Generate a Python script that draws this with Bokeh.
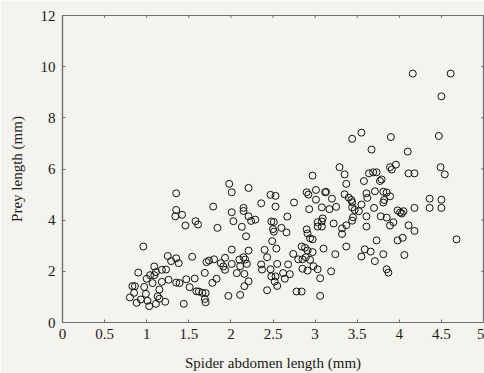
import math
from bokeh.plotting import figure
from bokeh.models import FixedTicker, Range1d
from bokeh.embed import file_html
from bokeh.resources import INLINE

abdomen = [
    1.35, 1.35, 1.34, 1.42, 1.46, 1.58, 1.61, 0.96, 1.25, 1.35, 1.29, 1.38, 1.54, 1.09, 1.18, 1.23,
    0.90, 1.11, 1.04, 1.09, 1.00, 1.07, 1.18, 1.26, 1.35, 1.39, 1.47, 1.57, 0.97, 1.51, 1.59, 1.62,
    0.83, 0.86, 0.85, 1.15, 0.99, 0.80, 0.93, 0.88, 1.01, 1.03, 1.13, 1.15, 1.11, 1.22, 1.44,
    2.97, 1.98, 2.01, 2.21, 2.47, 2.53, 2.90, 2.92, 3.01, 3.12, 3.01, 2.36, 2.53, 2.75, 3.08, 2.93,
    3.17, 1.79, 2.01, 2.15, 2.15, 2.21, 2.24, 2.29, 2.03, 1.84, 2.13, 2.48, 2.51, 2.50, 2.51, 2.60,
    2.66, 2.67, 2.18, 2.49, 2.90, 2.91, 2.94, 2.97, 3.03, 3.03, 3.08, 3.09, 3.08, 2.84, 2.88, 2.91,
    2.97, 3.10, 2.01, 2.21, 2.40, 2.54, 1.80, 1.71, 1.74, 1.93, 1.88, 1.91, 1.93, 2.01, 2.10, 2.15,
    2.17, 2.11, 2.19, 2.16, 2.07, 2.21, 2.16, 1.97, 2.11, 2.43, 2.36, 2.37, 2.47, 2.55, 2.68, 2.48,
    2.53, 2.52, 2.55, 2.62, 2.70, 2.64, 2.43, 2.78, 2.84, 3.06, 2.74, 2.80, 2.85, 2.89, 2.94, 2.98,
    3.03, 2.85, 2.91, 3.06, 3.19, 1.69, 1.83, 1.78, 1.70, 1.70, 1.69, 1.66,
    3.55, 3.44, 3.90, 4.47, 3.67, 4.10, 3.29, 3.35, 3.37, 3.58, 3.64, 3.69, 3.73, 3.77, 3.79, 3.89,
    3.91, 3.96, 4.11, 4.18, 4.49, 4.54, 3.13, 3.20, 3.25, 3.35, 3.40, 3.43, 3.44, 3.44, 3.47, 3.52,
    3.55, 3.61, 3.62, 3.71, 3.81, 3.85, 3.89, 3.82, 3.81, 3.70, 3.61, 3.61, 3.78, 3.85, 3.98, 4.01,
    4.05, 4.03, 4.18, 4.36, 4.36, 4.50, 4.50, 3.93, 3.89, 4.11, 4.18, 4.68, 3.22, 3.37, 3.32, 3.32,
    3.44, 3.45, 3.73, 3.98, 4.04, 3.24, 3.37, 3.59, 3.66, 3.55, 3.71, 3.81, 4.06, 3.85, 3.87,
    4.16, 4.61, 4.50,
]
prey = [
    5.05, 4.40, 4.15, 4.21, 3.79, 3.96, 3.83, 2.97, 2.60, 2.51, 2.40, 2.32, 2.57, 2.19, 2.06, 2.07,
    1.95, 1.97, 1.85, 1.85, 1.71, 1.54, 1.59, 1.67, 1.56, 1.54, 1.69, 1.72, 1.39, 1.38, 1.22, 1.21,
    1.42, 1.42, 1.16, 1.29, 1.12, 0.98, 0.90, 0.77, 0.85, 0.64, 1.02, 0.93, 0.73, 0.81, 0.73,
    5.74, 5.42, 5.09, 5.26, 4.99, 4.95, 5.09, 5.00, 5.18, 5.09, 4.80, 4.66, 4.53, 4.69, 4.50, 4.43,
    4.43, 4.53, 4.31, 4.48, 4.36, 4.15, 3.97, 4.02, 3.96, 3.70, 3.74, 3.95, 3.93, 3.65, 3.55, 3.70,
    3.52, 4.14, 3.37, 3.18, 3.64, 3.48, 3.29, 3.25, 3.92, 3.75, 3.75, 4.07, 3.95, 2.97, 2.92, 2.81,
    2.75, 2.89, 2.85, 2.81, 2.84, 2.89, 2.47, 2.36, 2.42, 2.53, 2.32, 2.19, 2.06, 2.29, 2.46, 2.55,
    2.46, 2.20, 2.29, 1.90, 1.93, 1.61, 1.42, 1.04, 1.08, 2.55, 2.27, 2.07, 2.08, 2.29, 2.27, 1.80,
    1.80, 1.60, 1.43, 1.93, 1.89, 1.71, 1.26, 1.21, 1.21, 1.04, 2.68, 2.47, 2.47, 2.55, 2.45, 2.20,
    2.08, 2.10, 2.03, 1.73, 2.00, 1.94, 1.71, 1.55, 1.15, 0.79, 0.92, 1.16,
    7.42, 7.18, 7.25, 7.29, 6.76, 6.68, 6.07, 5.79, 5.42, 5.53, 5.83, 5.87, 5.87, 5.53, 5.59, 6.07,
    5.98, 6.17, 5.83, 5.83, 6.07, 5.79, 5.11, 4.84, 4.52, 5.01, 4.88, 4.79, 4.70, 4.50, 4.40, 4.35,
    4.61, 5.05, 4.87, 5.13, 5.11, 5.08, 4.93, 4.79, 4.69, 4.48, 4.15, 3.75, 4.15, 4.10, 4.38, 4.30,
    4.35, 4.26, 4.48, 4.84, 4.48, 4.80, 4.48, 3.92, 3.79, 3.80, 3.58, 3.25, 3.87, 3.80, 3.68, 3.46,
    3.98, 4.11, 3.21, 3.21, 3.31, 2.67, 2.97, 2.86, 2.77, 2.58, 2.40, 2.67, 2.64, 2.08, 1.95,
    9.73, 9.73, 8.84,
]

x_ticks = [0, 0.5, 1, 1.5, 2, 2.5, 3, 3.5, 4, 4.5, 5]
x_tick_labels = ["0", "0.5", "1", "1.5", "2", "2.5", "3", "3.5", "4", "4.5", "5"]
y_ticks = [0, 2, 4, 6, 8, 10, 12]
y_tick_labels = ["0", "2", "4", "6", "8", "10", "12"]
x_min, x_max = 0, 5
y_min, y_max = 0, 12

BG = "#f4f3ee"
FRAME = "#6e6e6e"
TEXT = "#1a1a1a"
FONT = "Liberation Serif"

p = figure(width=484, height=373, output_backend="svg", toolbar_location=None,
           x_range=Range1d(x_min, x_max), y_range=Range1d(y_min, y_max),
           min_border_left=62, min_border_right=1, min_border_top=15, min_border_bottom=51,
           background_fill_color=BG, border_fill_color=BG)
p.grid.visible = False
p.outline_line_color = FRAME
p.outline_line_width = 1.2

p.scatter(abdomen, prey, marker="circle", size=7, fill_color=None,
          line_color="#111111", line_width=1)

# inward ticks on the top and right edges of the frame
p.scatter(x_ticks, [y_max] * len(x_ticks), marker="dash", size=5, angle=math.pi / 2,
          line_color=FRAME, line_width=1)
p.scatter([x_max] * len(y_ticks), y_ticks, marker="dash", size=5,
          line_color=FRAME, line_width=1)

for ax, ticks, labels, name in ((p.xaxis[0], x_ticks, x_tick_labels, "Spider abdomen length (mm)"),
                                (p.yaxis[0], y_ticks, y_tick_labels, "Prey length (mm)")):
    ax.ticker = FixedTicker(ticks=ticks)
    ax.major_label_overrides = {t: l for t, l in zip(ticks, labels)}
    ax.axis_label = name
    ax.axis_label_text_font = FONT
    ax.axis_label_text_font_size = "15px"
    ax.axis_label_text_font_style = "normal"
    ax.axis_label_text_color = TEXT
    ax.major_label_text_font = FONT
    ax.major_label_text_font_size = "15px"
    ax.major_label_text_color = TEXT
    ax.axis_line_color = FRAME
    ax.axis_line_width = 1.2
    ax.major_tick_line_color = FRAME
    ax.major_tick_in = 3
    ax.major_tick_out = 0
    ax.minor_tick_line_color = None

p.xaxis[0].major_label_standoff = 6
p.xaxis[0].axis_label_standoff = 13
p.yaxis[0].major_label_standoff = 7
p.yaxis[0].axis_label_standoff = 13

open("out.html", "w").write(file_html(p, INLINE))
